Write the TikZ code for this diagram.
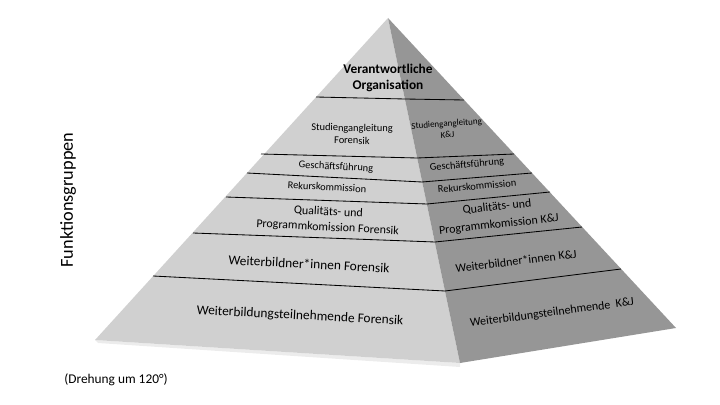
\documentclass[tikz,border=0pt]{standalone}
\usepackage{fontspec}
\setmainfont{Carlito}
\usepackage{xcolor}
\definecolor{lightface}{HTML}{D0D0D0}
\definecolor{darkface}{HTML}{969696}
\definecolor{sheen}{HTML}{ECECEC}
\usetikzlibrary{calc}
\tikzset{
  divider/.style={draw=black,line width=0.6pt},
  lbl/.style    ={font=\fontsize{7.4}{9}\selectfont,inner sep=1pt,align=center},
  lblmid/.style ={font=\fontsize{8.5}{11}\selectfont,inner sep=1pt,align=center},
  lblbig/.style ={font=\fontsize{9.5}{11}\selectfont,inner sep=1pt,align=center},
  lblsm/.style  ={font=\fontsize{6.4}{7.8}\selectfont,inner sep=1pt,align=center},
  lefttxt/.style={rotate=-3},
  righttxt/.style={rotate=#1},
}

\begin{document}
\begin{tikzpicture}[x=0.025cm,y=-0.025cm]
\useasboundingbox (0,0) rectangle (720,405);
\coordinate (apex)  at (388,18);
\coordinate (lbase) at (95,340);
\coordinate (fbase) at (460,363);
\coordinate (rbase) at (676,328);
% faces of the pyramid
\fill[sheen] (lbase) -- (fbase) -- ($(fbase)+(0,4)$) -- ($(lbase)+(3,3)$) -- cycle;
\fill[lightface] (apex) -- (lbase) -- (fbase) -- cycle;
\fill[darkface]  (apex) -- (fbase) -- (rbase) -- cycle;
% layer lines
\foreach \lx/\ly/\mx/\my/\rx/\ry in {316/97/405/99/464/100,
    261/154/417/158/514/154, 247/173/422/182/532/173,
    226/197/427/204/550/192, 193/233/435/242/582/227,
    153/276/445/291/621/269}
  \draw[divider] (\lx,\ly) -- (\mx,\my) -- (\rx,\ry);
% labels
\node[lblbig,font=\fontsize{9.5}{11}\selectfont\bfseries] (org) at (388,78)
  {Verantwortliche\\ Organisation};
\node[lbl,rotate=-1] (sglf) at (352,134) {Studiengangleitung\\ Forensik};
\node[lblsm,righttxt=4] (sglk) at (447,129) {Studiengangleitung\\ K\&J};
\node[lbl,lefttxt] (gfl) at (336,167) {Geschäftsführung};
\node[lbl,righttxt=5] (gfr) at (467,165) {Geschäftsführung};
\node[lbl,lefttxt] (rkl) at (327,187) {Rekurskommission};
\node[lbl,righttxt=5] (rkr) at (477,186) {Rekurskommission};
\node[lblmid,lefttxt] (qpl) at (328,220) {Qualitäts- und\\ Programmkomission Forensik};
\node[lblmid,font=\fontsize{8.5}{12.5}\selectfont,righttxt=6] (qpr) at (498,216)
  {Qualitäts- und\\ Programmkomission K\&J};
\node[lblbig,lefttxt] (wbl) at (309,264) {Weiterbildner*innen Forensik};
\node[lblmid,righttxt=7] (wbr) at (516,261) {Weiterbildner*innen K\&J};
\node[lblbig,lefttxt] (wtl) at (300,316) {Weiterbildungsteilnehmende Forensik};
\node[lblmid,righttxt=7.5] (wtr) at (552,313) {Weiterbildungsteilnehmende~~K\&J};
\node[font=\fontsize{13}{15}\selectfont,rotate=90] (fg) at (68,200) {Funktionsgruppen};
\node[font=\fontsize{9.5}{11}\selectfont,anchor=west,inner sep=0pt] (dreh) at (64,380)
  {(Drehung um 120°)};
\end{tikzpicture}
\end{document}
